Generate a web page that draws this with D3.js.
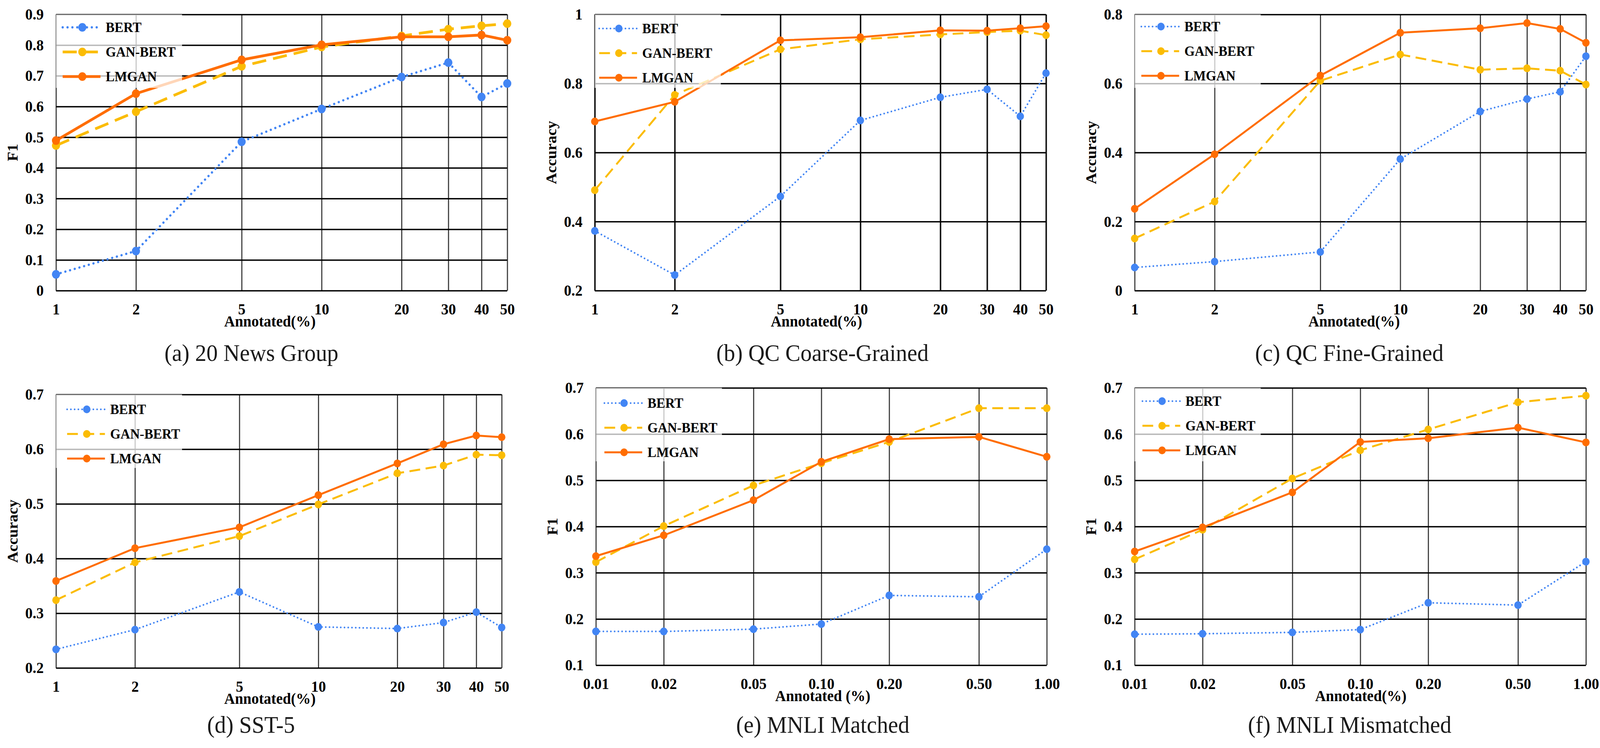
<!DOCTYPE html>
<html>
<head>
<meta charset="utf-8">
<script src="https://cdn.jsdelivr.net/npm/d3@7"></script>
<style>
  html, body { margin: 0; padding: 0; width: 100%; height: 100%; overflow: hidden; background: #fff; }
  svg { display: block; }
</style>
</head>
<body>
<script>
// ---- data ----
const seriesNames = ['BERT', 'GAN-BERT', 'LMGAN'];
const seriesColors = ['#4285F4', '#FBBC04', '#FF6D01'];

const pctX = [1, 2, 5, 10, 20, 30, 40, 50];
const pctLabels = ['1', '2', '5', '10', '20', '30', '40', '50'];
const mnliX = [0.01, 0.02, 0.05, 0.10, 0.20, 0.50, 1.00];
const mnliLabels = ['0.01', '0.02', '0.05', '0.10', '0.20', '0.50', '1.00'];

// (a) 20 News Group
const newsBert  = [0.053, 0.129, 0.485, 0.592, 0.696, 0.743, 0.631, 0.675];
const newsGan   = [0.473, 0.583, 0.731, 0.794, 0.830, 0.852, 0.863, 0.870];
const newsLmgan = [0.489, 0.642, 0.752, 0.801, 0.827, 0.827, 0.833, 0.816];

// (b) QC Coarse-Grained
const coarseBert  = [0.373, 0.245, 0.473, 0.693, 0.760, 0.783, 0.705, 0.830];
const coarseGan   = [0.491, 0.767, 0.899, 0.928, 0.942, 0.949, 0.953, 0.940];
const coarseLmgan = [0.690, 0.747, 0.925, 0.934, 0.954, 0.953, 0.960, 0.966];

// (c) QC Fine-Grained
const fineBert  = [0.067, 0.084, 0.112, 0.381, 0.519, 0.555, 0.576, 0.679];
const fineGan   = [0.151, 0.258, 0.608, 0.684, 0.640, 0.644, 0.637, 0.597];
const fineLmgan = [0.237, 0.395, 0.623, 0.747, 0.760, 0.775, 0.758, 0.718];

// (d) SST-5
const sstBert  = [0.234, 0.270, 0.339, 0.275, 0.272, 0.283, 0.302, 0.274];
const sstGan   = [0.324, 0.393, 0.441, 0.499, 0.556, 0.570, 0.590, 0.589];
const sstLmgan = [0.359, 0.419, 0.457, 0.516, 0.574, 0.609, 0.625, 0.622];

// (e) MNLI Matched
const matchedBert  = [0.173, 0.173, 0.178, 0.189, 0.251, 0.248, 0.351];
const matchedGan   = [0.323, 0.401, 0.489, 0.537, 0.583, 0.656, 0.656];
const matchedLmgan = [0.336, 0.381, 0.457, 0.540, 0.589, 0.594, 0.551];

// (f) MNLI Mismatched
const mismatchedBert  = [0.167, 0.168, 0.171, 0.177, 0.235, 0.230, 0.324];
const mismatchedGan   = [0.329, 0.393, 0.504, 0.565, 0.610, 0.669, 0.683];
const mismatchedLmgan = [0.346, 0.398, 0.474, 0.583, 0.591, 0.614, 0.582];

// y ticks
const ticksA = [0, 0.1, 0.2, 0.3, 0.4, 0.5, 0.6, 0.7, 0.8, 0.9];
const labelsA = ['0', '0.1', '0.2', '0.3', '0.4', '0.5', '0.6', '0.7', '0.8', '0.9'];
const ticksB = [0.2, 0.4, 0.6, 0.8, 1];
const labelsB = ['0.2', '0.4', '0.6', '0.8', '1'];
const ticksC = [0, 0.2, 0.4, 0.6, 0.8];
const labelsC = ['0', '0.2', '0.4', '0.6', '0.8'];
const ticksD = [0.2, 0.3, 0.4, 0.5, 0.6, 0.7];
const labelsD = ['0.2', '0.3', '0.4', '0.5', '0.6', '0.7'];
const ticksE = [0.1, 0.2, 0.3, 0.4, 0.5, 0.6, 0.7];
const labelsE = ['0.1', '0.2', '0.3', '0.4', '0.5', '0.6', '0.7'];

// ---- layout ----
const W = 4315, H = 1915;
const FONT = '"Liberation Serif", "Times New Roman", serif';

const panels = [
  { caption: '(a) 20 News Group', yTitle: 'F1', xTitle: 'Annotated(%)',
    xs: pctX, xLabels: pctLabels, series: [newsBert, newsGan, newsLmgan],
    yTicks: ticksA, yLabels: labelsA,
    left: 151, right: 1368, top: 37, bottom: 744, vColor: '#3a3a3a',
    capX: 678, xTitleX: 728, leg: [18, 33], heavy: true },
  { caption: '(b) QC Coarse-Grained', yTitle: 'Accuracy', xTitle: 'Annotated(%)',
    xs: pctX, xLabels: pctLabels, series: [coarseBert, coarseGan, coarseLmgan],
    yTicks: ticksB, yLabels: labelsB,
    left: 1604, right: 2821, top: 37, bottom: 744, vColor: '#111',
    capX: 2218, xTitleX: 2202, leg: [12, 36] },
  { caption: '(c) QC Fine-Grained', yTitle: 'Accuracy', xTitle: 'Annotated(%)',
    xs: pctX, xLabels: pctLabels, series: [fineBert, fineGan, fineLmgan],
    yTicks: ticksC, yLabels: labelsC,
    left: 3060, right: 4277, top: 37, bottom: 744, vColor: '#3a3a3a',
    capX: 3639, xTitleX: 3652, leg: [18, 31] },
  { caption: '(d) SST-5', yTitle: 'Accuracy', xTitle: 'Annotated(%)',
    xs: pctX, xLabels: pctLabels, series: [sstBert, sstGan, sstLmgan],
    yTicks: ticksD, yLabels: labelsD,
    left: 151, right: 1353, top: 1010, bottom: 1710, vColor: '#3a3a3a',
    capX: 677, xTitleX: 728, leg: [30, 38] },
  { caption: '(e) MNLI Matched', yTitle: 'F1', xTitle: 'Annotated (%)',
    xs: mnliX, xLabels: mnliLabels, series: [matchedBert, matchedGan, matchedLmgan],
    yTicks: ticksE, yLabels: labelsE,
    left: 1607, right: 2823, top: 993, bottom: 1703, vColor: '#3a3a3a',
    capX: 2219, xTitleX: 2219, leg: [23, 39] },
  { caption: '(f) MNLI Mismatched', yTitle: 'F1', xTitle: 'Annotated(%)',
    xs: mnliX, xLabels: mnliLabels, series: [mismatchedBert, mismatchedGan, mismatchedLmgan],
    yTicks: ticksE, yLabels: labelsE,
    left: 3060, right: 4277, top: 993, bottom: 1703, vColor: '#3a3a3a',
    capX: 3640, xTitleX: 3670, leg: [21, 34] }
];

// the drawing is laid out on a 4315x1915 grid and stretched to fill the window
const svg = d3.select('body')
  .append('svg')
  .attr('viewBox', '0 0 ' + W + ' ' + H)
  .attr('preserveAspectRatio', 'none')
  .style('width', '100vw')
  .style('height', '100vh')
  .style('font-family', FONT);

svg.append('rect').attr('width', W).attr('height', H).attr('fill', '#fff');

function lineStyle(sel, i, heavy) {
  if (i === 0) {
    sel.attr('stroke-width', heavy ? 6 : 4.5)
      .attr('stroke-linecap', 'round')
      .attr('stroke-dasharray', heavy ? '0.1 13' : '0.1 10');
  } else if (i === 1) {
    sel.attr('stroke-width', heavy ? 7 : 5)
      .attr('stroke-dasharray', heavy ? '38 19' : '29 15');
  } else {
    sel.attr('stroke-width', heavy ? 7 : 5);
  }
}

function drawPanel(p) {
  const x = d3.scaleLog()
    .domain([p.xs[0], p.xs[p.xs.length - 1]])
    .range([p.left, p.right]);
  const y = d3.scaleLinear()
    .domain([p.yTicks[0], p.yTicks[p.yTicks.length - 1]])
    .range([p.bottom, p.top]);
  const g = svg.append('g');

  // vertical grid + x tick labels
  const xAxis = g.append('g')
    .attr('transform', 'translate(0,' + p.bottom + ')')
    .call(d3.axisBottom(x)
      .tickValues(p.xs)
      .tickFormat((d, i) => p.xLabels[i])
      .tickSize(-(p.bottom - p.top))
      .tickPadding(33));
  xAxis.select('.domain').remove();
  xAxis.selectAll('line').attr('stroke', p.vColor).attr('stroke-width', p.vColor === '#111' ? 4 : 3);
  xAxis.selectAll('text')
    .attr('font-family', FONT).attr('font-size', 40).attr('font-weight', 'bold').attr('fill', '#000');

  // horizontal grid + y tick labels
  const yAxis = g.append('g')
    .attr('transform', 'translate(' + p.left + ',0)')
    .call(d3.axisLeft(y)
      .tickValues(p.yTicks)
      .tickFormat((d, i) => p.yLabels[i])
      .tickSize(-(p.right - p.left))
      .tickPadding(33));
  yAxis.select('.domain').remove();
  yAxis.selectAll('line').attr('stroke', '#000').attr('stroke-width', 3.5);
  yAxis.selectAll('text')
    .attr('font-family', FONT).attr('font-size', 40).attr('font-weight', 'bold').attr('fill', '#000');

  // series
  const line = d3.line().x((d, i) => x(p.xs[i])).y(d => y(d));
  p.series.forEach((vals, i) => {
    g.append('path')
      .datum(vals)
      .attr('d', line)
      .attr('fill', 'none')
      .attr('stroke', seriesColors[i])
      .call(lineStyle, i, p.heavy);
    g.selectAll('.pt' + i)
      .data(vals)
      .enter()
      .append('circle')
      .attr('cx', (d, j) => x(p.xs[j]))
      .attr('cy', d => y(d))
      .attr('r', p.heavy ? 11 : 10)
      .attr('fill', seriesColors[i]);
  });

  // legend (semi-transparent box over the grid)
  g.append('rect')
    .attr('x', p.left).attr('y', p.top)
    .attr('width', 340).attr('height', 188)
    .attr('fill', '#fff').attr('opacity', 0.72);
  const lg = g.append('g').attr('transform', 'translate(' + (p.left + p.leg[0]) + ',' + (p.top + p.leg[1]) + ')');
  seriesNames.forEach((name, i) => {
    const row = lg.append('g').attr('transform', 'translate(0,' + (i * 63) + ')');
    row.append('line')
      .attr('x1', 0).attr('x2', 102).attr('y1', 0).attr('y2', 0)
      .attr('stroke', seriesColors[i])
      .call(lineStyle, i, p.heavy);
    row.append('circle').attr('cx', 53).attr('cy', 0).attr('r', p.heavy ? 11 : 10).attr('fill', seriesColors[i]);
    row.append('text')
      .attr('x', 116).attr('y', 12)
      .attr('font-size', 36).attr('font-weight', 'bold').attr('fill', '#000')
      .text(name);
  });

  // axis titles
  g.append('text')
    .attr('x', p.xTitleX).attr('y', p.bottom + 92)
    .attr('text-anchor', 'middle')
    .attr('font-size', 40).attr('font-weight', 'bold').attr('fill', '#000')
    .text(p.xTitle);
  g.append('text')
    .attr('transform', 'translate(' + (p.left - 104) + ',' + ((p.top + p.bottom) / 2) + ') rotate(-90)')
    .attr('text-anchor', 'middle')
    .attr('font-size', 40).attr('font-weight', 'bold').attr('fill', '#000')
    .text(p.yTitle);

  // caption
  g.append('text')
    .attr('x', p.capX).attr('y', p.top < 500 ? 924 : 1876)
    .attr('text-anchor', 'middle')
    .attr('font-size', 61).attr('fill', '#1a1a1a')
    .text(p.caption);
}

panels.forEach(drawPanel);
</script>
</body>
</html>
